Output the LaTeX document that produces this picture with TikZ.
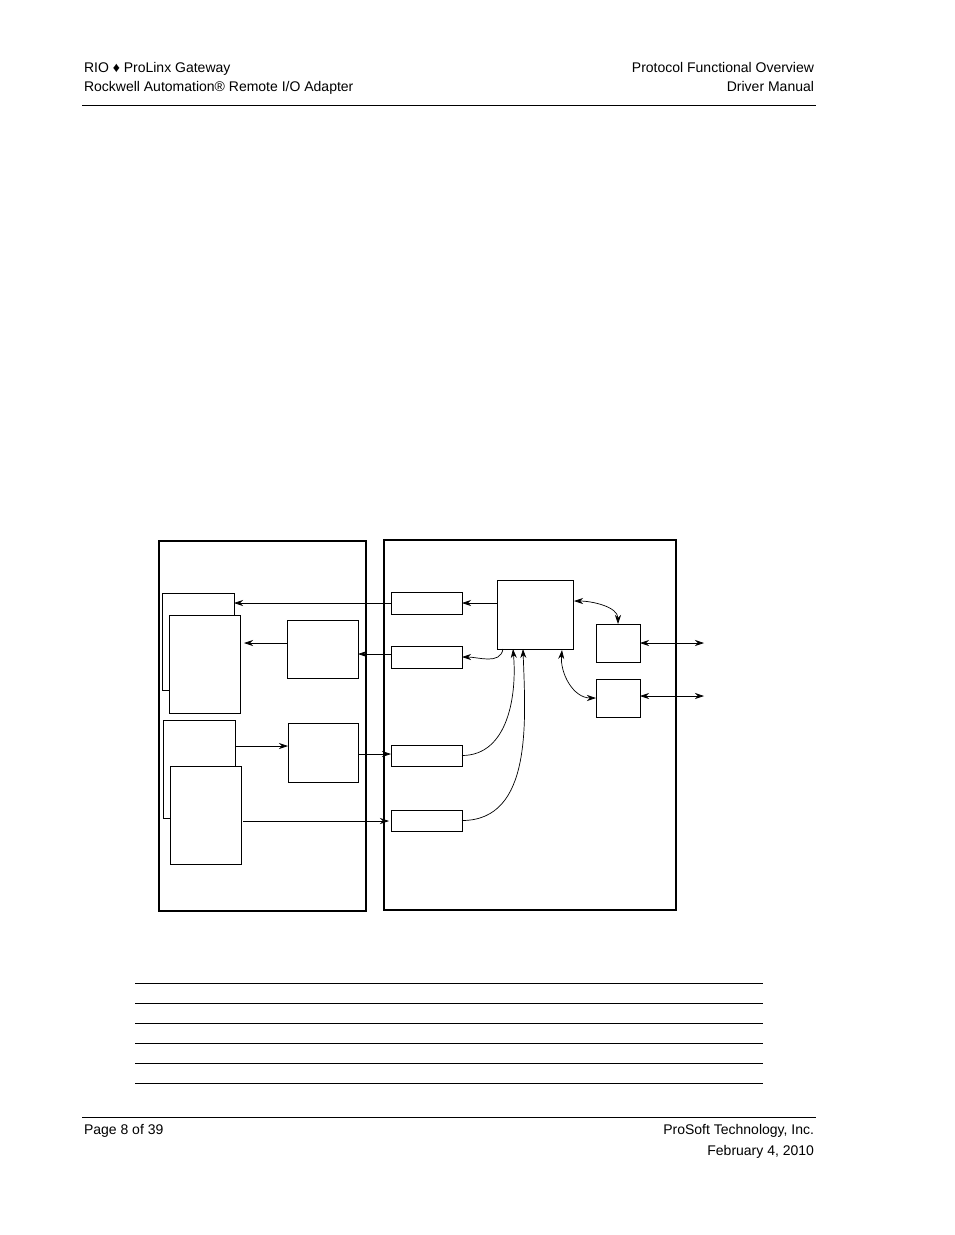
\documentclass[tikz,border=0pt]{standalone}
\usepackage{fontspec}
\setmainfont{Liberation Sans}
\usetikzlibrary{arrows.meta,positioning}
\begin{document}
\begin{tikzpicture}[
  x=1pt, y=-1pt,
  every node/.style={inner sep=0pt, outer sep=0pt},
  txt/.style={font=\fontsize{14}{17}\selectfont},
  box/.style={draw, line width=0.8pt, fill=white, anchor=north west},
  frame/.style={draw, line width=1.6pt, anchor=north west},
  arr/.style={-{Stealth[length=9pt,width=6pt]}, line width=0.7pt},
  darr/.style={{Stealth[length=9pt,width=6pt]}-{Stealth[length=9pt,width=6pt]}, line width=0.7pt},
  rule/.style={line width=0.6pt}
  ]
  \useasboundingbox (0,0) rectangle (954,1235);

  % header and footer
  \node[txt, anchor=base west] (h1) at (84,72) {RIO ♦ ProLinx Gateway};
  \node[txt, anchor=base west] (h2) at (84,91) {Rockwell Automation® Remote I/O Adapter};
  \node[txt, anchor=base east] (h3) at (814,72) {Protocol Functional Overview};
  \node[txt, anchor=base east] (h4) at (814,91) {Driver Manual};
  \draw[rule] (82,105) -- (816,105);
  \draw[rule] (82,1117) -- (816,1117);
  \node[txt, anchor=base west] (f1) at (84,1134) {Page 8 of 39};
  \node[txt, anchor=base east] (f2) at (814,1134) {ProSoft Technology, Inc.};
  \node[txt, anchor=base east] (f3) at (814,1155) {February 4, 2010};

  % frames
  \node[frame, minimum width=207, minimum height=370] (left) at (159,541) {};
  \node[frame, minimum width=292, minimum height=370] (right) at (384,540) {};

  % left side boxes
  \node[box, minimum width=72, minimum height=97] (A1) at (162,593) {};
  \node[box, minimum width=71, minimum height=98] (A2) at (169,615) {};
  \node[box, minimum width=71, minimum height=58] (B1) at (287,620) {};
  \node[box, minimum width=72, minimum height=98] (C1) at (163,720) {};
  \node[box, minimum width=71, minimum height=98] (C2) at (170,766) {};
  \node[box, minimum width=70, minimum height=59] (D1) at (288,723) {};

  % right side boxes
  \node[box, minimum width=71, minimum height=22] (S1) at (391,592) {};
  \node[box, minimum width=71, minimum height=22] (S2) at (391,646) {};
  \node[box, minimum width=71, minimum height=21] (S3) at (391,745) {};
  \node[box, minimum width=71, minimum height=21] (S4) at (391,810) {};
  \node[box, minimum width=76, minimum height=69] (M) at (497,580) {};
  \node[box, minimum width=44, minimum height=38] (P1) at (596,624) {};
  \node[box, minimum width=44, minimum height=38] (P2) at (596,679) {};

  \coordinate (M1) at (503,649);
  \coordinate (M2) at (513,649);
  \coordinate (M3) at (523,649);
  \coordinate (M4) at (562,650);
  \coordinate (Mr) at (574,601);
  \coordinate (E1) at (704,643);
  \coordinate (E2) at (704,696);

  \draw[arr] (M.west |- S1.east) -- (S1.east);
  \draw[arr] (S1.west) -- (A1.east |- S1.west);
  \draw[arr] (B1.west |- 0,643) -- (244,643);
  \draw[arr] (S2.west |- 0,654) -- (B1.east |- 0,654);
  \draw[arr] (M1) to[out=-100, in=0] (S2.east);
  \draw[arr] (C1.east |- 0,746) -- (D1.west |- 0,746);
  \draw[arr] (D1.east |- 0,754) -- (S3.west |- 0,754);
  \draw[arr] (243,821) -- (389,821);
  \draw[arr] (S3.east) to[out=0, in=-85] (M2);
  \draw[arr] (S4.east) to[out=0, in=-88] (M3);
  \draw[darr] (Mr) to[out=0, in=90, looseness=0.9] (P1.north);
  \draw[darr] (M4) to[out=-95, in=180] (P2.west);
  \draw[darr] (P1.east) -- (E1);
  \draw[darr] (P2.east |- E2) -- (E2);

  % table rules
  \foreach \y in {983,1003,1023,1043,1063,1083}
    \draw[rule] (135,\y) -- (763,\y);
\end{tikzpicture}
\end{document}
